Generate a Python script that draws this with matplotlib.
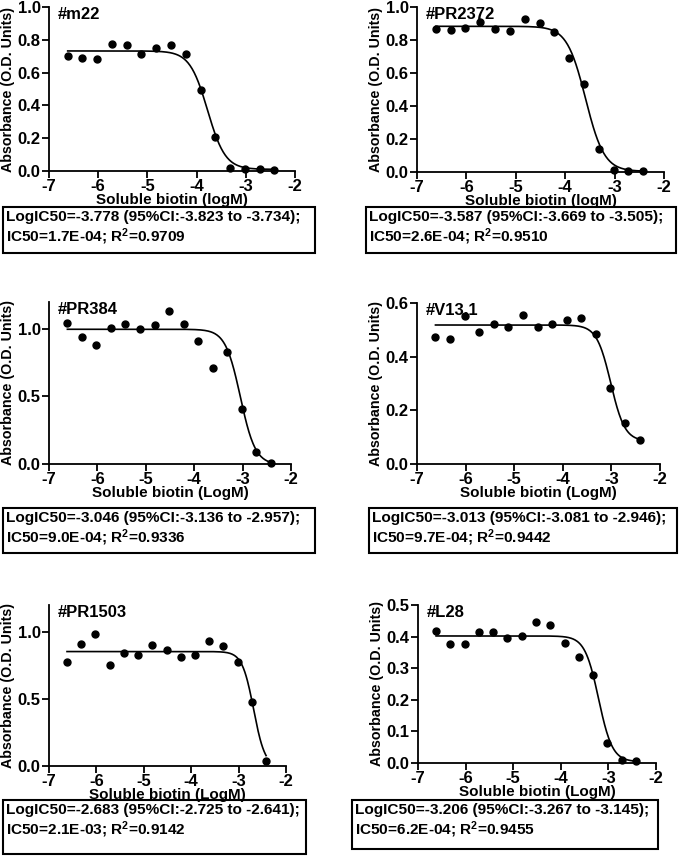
import numpy as np
import matplotlib
matplotlib.use('Agg')
import matplotlib.pyplot as plt
from matplotlib.patches import Rectangle

plt.rcParams['font.family'] = ['Liberation Sans', 'DejaVu Sans']
plt.rcParams['font.weight'] = 'bold'
plt.rcParams['mathtext.fontset'] = 'custom'
plt.rcParams['mathtext.rm'] = 'Liberation Sans:bold'
plt.rcParams['mathtext.bf'] = 'Liberation Sans:bold'
plt.rcParams['mathtext.default'] = 'bf'

W, H = 694, 856

# log concentration of soluble biotin (same series for every clone)
log_conc = [-6.62, -6.32, -6.02, -5.72, -5.42, -5.12, -4.82, -4.52,
            -4.22, -3.92, -3.62, -3.32, -3.02, -2.72, -2.42]

names = ['#m22', '#PR2372', '#PR384', '#V13.1', '#PR1503', '#L28']

od_m22 = [0.70, 0.69, 0.685, 0.773, 0.767, 0.714, 0.752, 0.771,
          0.716, 0.493, 0.205, 0.02, 0.012, 0.012, 0.008]
od_pr2372 = [0.865, 0.859, 0.873, 0.911, 0.865, 0.855, 0.929, 0.903,
             0.848, 0.693, 0.535, 0.141, 0.014, 0.006, 0.004]
od_pr384 = [1.045, 0.94, 0.878, 1.01, 1.037, 1.0, 1.032, 1.137,
            1.04, 0.913, 0.714, 0.828, 0.405, 0.09, 0.005]
od_v131 = [0.473, 0.466, 0.55, 0.491, 0.522, 0.509, 0.554, 0.509,
           0.522, 0.535, 0.544, 0.484, 0.283, 0.152, 0.088]
od_pr1503 = [0.776, 0.91, 0.985, 0.756, 0.843, 0.831, 0.905, 0.863,
             0.813, 0.828, 0.928, 0.898, 0.774, 0.48, 0.035]
od_l28 = [0.418, 0.378, 0.378, 0.414, 0.414, 0.397, 0.402, 0.447,
          0.438, 0.379, 0.337, 0.278, 0.062, 0.01, 0.005]
od_all = [od_m22, od_pr2372, od_pr384, od_v131, od_pr1503, od_l28]

# four parameter fit: top, bottom, logIC50, hill slope
fit_top = [0.732, 0.883, 0.998, 0.518, 0.853, 0.402]
fit_bottom = [0.01, 0.004, -0.005, 0.085, -0.01, 0.004]
fit_logic50 = [-3.778, -3.587, -3.046, -3.013, -2.683, -3.206]
fit_hill = [2.4, 2.3, 2.8, 3.0, 3.6, 3.0]

box_texts = [
    'LogIC50=-3.778 (95%CI:-3.823 to -3.734);\nIC50=1.7E-04; R$^2$=0.9709',
    'LogIC50=-3.587 (95%CI:-3.669 to -3.505);\nIC50=2.6E-04; R$^2$=0.9510',
    'LogIC50=-3.046 (95%CI:-3.136 to -2.957);\nIC50=9.0E-04; R$^2$=0.9336',
    'LogIC50=-3.013 (95%CI:-3.081 to -2.946);\nIC50=9.7E-04; R$^2$=0.9442',
    'LogIC50=-2.683 (95%CI:-2.725 to -2.641);\nIC50=2.1E-03; R$^2$=0.9142',
    'LogIC50=-3.206 (95%CI:-3.267 to -3.145);\nIC50=6.2E-04; R$^2$=0.9455',
]
xlabels = ['Soluble biotin (logM)', 'Soluble biotin (logM)',
           'Soluble biotin (LogM)', 'Soluble biotin (LogM)',
           'Soluble biotin (LogM)', 'Soluble biotin (LogM)']
ylims = [1.0, 1.0, 1.2, 0.6, 1.2, 0.5]
yticks = [[0, 0.2, 0.4, 0.6, 0.8, 1.0], [0, 0.2, 0.4, 0.6, 0.8, 1.0],
          [0, 0.5, 1.0], [0, 0.2, 0.4, 0.6], [0, 0.5, 1.0],
          [0, 0.1, 0.2, 0.3, 0.4, 0.5]]

# axes boxes in pixels: left, right, top, bottom
ax_px = [(49, 295, 7, 171), (417, 664, 7, 172),
         (49, 291, 302, 464), (417, 660, 303, 464),
         (49, 286, 605, 766), (418, 656, 605, 763)]
# result boxes in pixels: left, right, top, bottom
box_px = [(3, 315, 207, 253), (366, 676, 207, 253),
          (3, 315, 508, 553), (369, 677, 508, 553),
          (3, 306, 800, 854), (352, 658, 800, 849)]


def hill_curve(x, top, bottom, logic50, hill):
    return bottom + (top - bottom) / (1 + 10 ** ((x - logic50) * hill))


fig = plt.figure(figsize=(W / 100, H / 100), dpi=100)

for i in range(6):
    l, r, t, b = ax_px[i]
    ax = fig.add_axes([l / W, 1 - b / H, (r - l) / W, (b - t) / H])
    xs = np.linspace(log_conc[0], log_conc[-1], 300)
    ys = hill_curve(xs, fit_top[i], fit_bottom[i], fit_logic50[i], fit_hill[i])
    ax.plot(xs, ys, color='black', lw=1.2, clip_on=False)
    ax.plot(log_conc, od_all[i], 'o', color='black', ms=5, clip_on=False)
    ax.set_xlim(-7, -2)
    ax.set_ylim(0, ylims[i])
    ax.set_xticks([-7, -6, -5, -4, -3, -2])
    ax.set_xticklabels(['-7', '-6', '-5', '-4', '-3', '-2'])
    ax.set_yticks(yticks[i])
    ax.set_yticklabels(['%.1f' % v for v in yticks[i]])
    for s in ['top', 'right']:
        ax.spines[s].set_visible(False)
    for s in ['left', 'bottom']:
        ax.spines[s].set_linewidth(1.3)
    ax.tick_params(direction='out', length=5, width=1.3, labelsize=12, pad=1)
    ax.set_xlabel(xlabels[i], fontsize=11, fontweight='bold', labelpad=-1)
    ax.set_ylabel('Absorbance (O.D. Units)', fontsize=10.3, fontweight='bold', labelpad=2)
    ax.text(0.035, 1.0, names[i], transform=ax.transAxes, fontsize=12,
            fontweight='bold', va='top', ha='left')

    bl, br, bt, bb = box_px[i]
    fig.patches.append(Rectangle((bl / W, 1 - bb / H), (br - bl) / W, (bb - bt) / H,
                                 transform=fig.transFigure, fill=False,
                                 edgecolor='black', lw=1.5))
    fig.text((bl + 3) / W, 1 - (bt + 3) / H, box_texts[i], fontsize=11.1,
             fontweight='bold', va='top', ha='left', linespacing=1.15)

fig.savefig('out.png', dpi=100)
